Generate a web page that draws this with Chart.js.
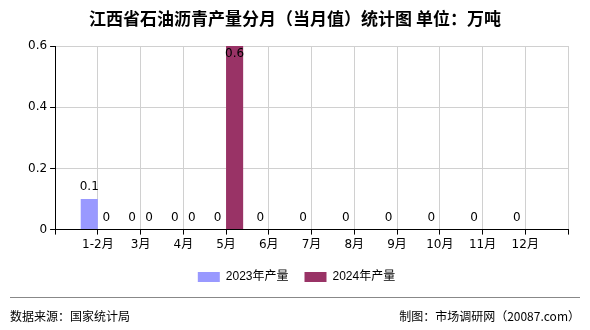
<!DOCTYPE html>
<html>
<head>
<meta charset="utf-8">
<script src="https://cdn.jsdelivr.net/npm/chart.js@4"></script>
<style>
  body { margin: 0; background: #fff; }
  #wrap { position: relative; width: 590px; height: 330px; font-family: "Noto Sans CJK SC", sans-serif; }
  #title { position: absolute; top: 5px; left: 0; width: 590px; text-align: center; font-size: 17px; font-weight: bold; color: #000; }
  #rule { position: absolute; top: 297px; left: 10px; width: 570px; height: 0; border-top: 1px solid #888; }
  #src { position: absolute; top: 307px; left: 10px; font-size: 12px; color: #000; }
  #by { position: absolute; top: 307px; right: 10px; font-size: 12px; color: #000; }
</style>
</head>
<body>
<div id="wrap">
  <canvas id="chart" width="590" height="330"></canvas>
  <div id="title">江西省石油沥青产量分月（当月值）统计图 单位：万吨</div>
  <div id="rule"></div>
  <div id="src">数据来源：国家统计局</div>
  <div id="by">制图：市场调研网（20087.com）</div>
</div>
<script>
// Categories (blank slots at both ends keep the axis a half slot wider on each side)
const months = ['', '1-2月', '3月', '4月', '5月', '6月', '7月', '8月', '9月', '10月', '11月', '12月', ''];
const output2023 = [null, 0.1, 0, 0, 0, 0, 0, 0, 0, 0, 0, 0, null];
const output2024 = [null, 0, 0, 0, 0.6, null, null, null, null, null, null, null, null];
const yTicks = [0, 0.2, 0.4, 0.6];

const baseFont = 'DejaVu Sans, "Noto Sans CJK SC", sans-serif';

// Value labels above each bar
const valueLabels = {
    id: 'valueLabels',
    afterDatasetsDraw(chart) {
        const ctx = chart.ctx;
        const area = chart.chartArea;
        ctx.save();
        ctx.font = '12px ' + baseFont;
        ctx.fillStyle = '#000';
        ctx.textAlign = 'center';
        ctx.textBaseline = 'middle';
        chart.data.datasets.forEach((ds, i) => {
            chart.getDatasetMeta(i).data.forEach((bar, j) => {
                const v = ds.data[j];
                if (v === null) return;
                const y = Math.max(bar.y - 12, area.top + 8);
                ctx.fillText(String(v), bar.x, y);
            });
        });
        ctx.restore();
    }
};

new Chart(document.getElementById('chart').getContext('2d'), {
    type: 'bar',
    data: {
        labels: months,
        datasets: [{
            label: '2023年产量',
            data: output2023,
            backgroundColor: '#9999ff'
        }, {
            label: '2024年产量',
            data: output2024,
            backgroundColor: '#993366'
        }]
    },
    options: {
        responsive: false,
        animation: false,
        layout: {
            padding: { left: 25, right: 22, top: 46, bottom: 37 }
        },
        datasets: {
            bar: { categoryPercentage: 0.8, barPercentage: 1.0 }
        },
        plugins: {
            legend: {
                position: 'bottom',
                labels: {
                    boxWidth: 22,
                    boxHeight: 10,
                    padding: 16,
                    color: '#000',
                    font: { size: 12, family: 'Liberation Sans, "Noto Sans CJK SC", sans-serif' }
                }
            },
            tooltip: { enabled: false }
        },
        scales: {
            x: {
                offset: false,
                grid: { color: '#d0d0d0', tickColor: '#000', tickLength: 5, offset: false },
                border: { color: '#000' },
                ticks: { autoSkip: false, maxRotation: 0, color: '#000', padding: 3, font: { size: 12, family: baseFont } }
            },
            y: {
                min: 0,
                max: 0.6,
                afterBuildTicks: axis => { axis.ticks = yTicks.map(v => ({ value: v })); },
                grid: { color: '#d0d0d0', tickColor: '#000', tickLength: 5 },
                border: { color: '#000' },
                ticks: { color: '#000', padding: 3, font: { size: 12, family: baseFont }, callback: v => String(v) }
            }
        }
    },
    plugins: [valueLabels]
});
</script>
</body>
</html>
